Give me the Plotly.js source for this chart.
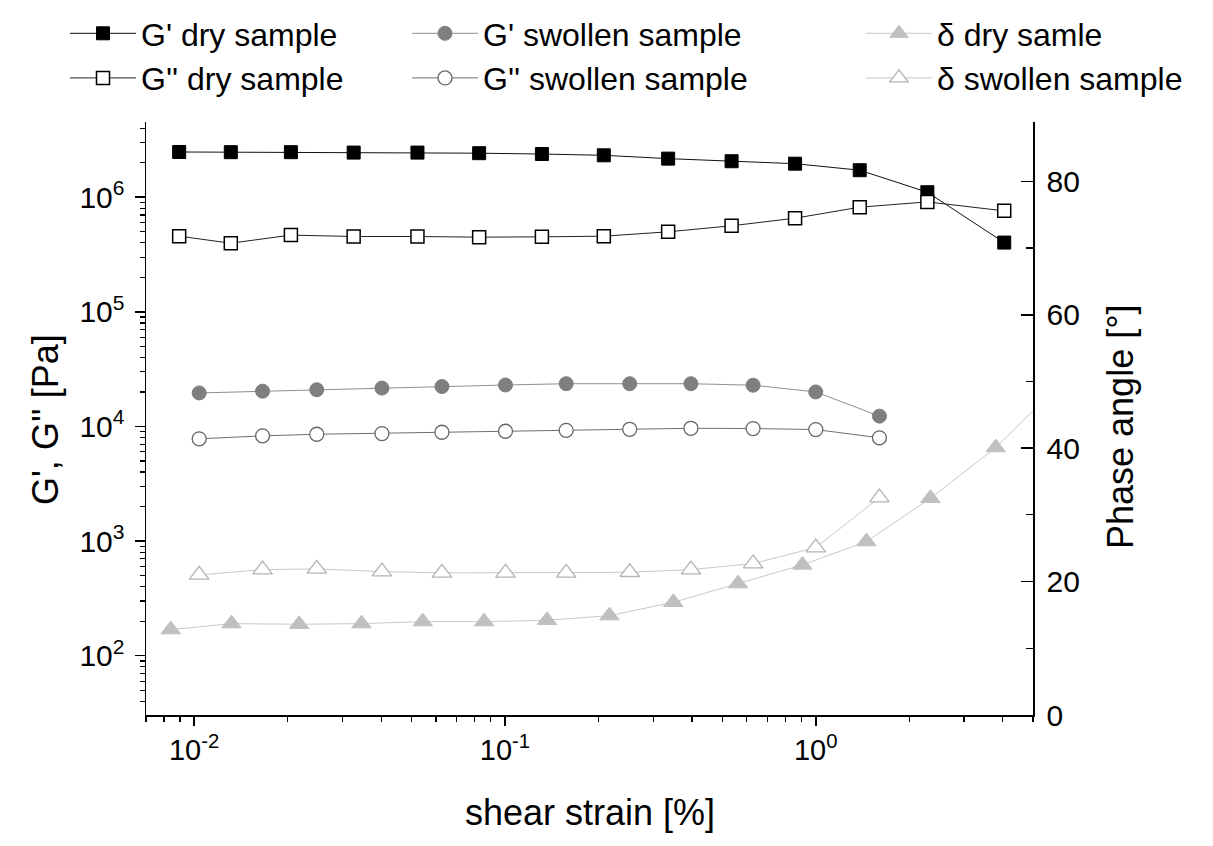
<!DOCTYPE html>
<html>
<head>
<meta charset="utf-8">
<script src="https://cdn.plot.ly/plotly-3.0.1.min.js"></script>
<style>html,body{margin:0;padding:0;background:#fff;}#chart{width:1213px;height:846px;}</style>
</head>
<body>
<div id="chart"></div>
<script>
// ---- data ----
const strainDry = [0.00895, 0.01312, 0.02048, 0.0326, 0.0523, 0.0826, 0.1315, 0.208, 0.335, 0.536, 0.858, 1.385, 2.286, 4.04];
const gPrimeDry = [2.48e6, 2.47e6, 2.47e6, 2.45e6, 2.45e6, 2.42e6, 2.38e6, 2.32e6, 2.17e6, 2.06e6, 1.96e6, 1.72e6, 1.105e6, 4.02e5];
const gDoublePrimeDry = [4.57e5, 3.97e5, 4.67e5, 4.54e5, 4.54e5, 4.48e5, 4.51e5, 4.57e5, 4.99e5, 5.63e5, 6.56e5, 8.18e5, 9.1e5, 7.6e5];

const strainSwollen = [0.01038, 0.0166, 0.0248, 0.0402, 0.0627, 0.1004, 0.1574, 0.252, 0.3966, 0.6286, 1.0, 1.603];
const gPrimeSwollen = [1.96e4, 2.03e4, 2.09e4, 2.16e4, 2.23e4, 2.30e4, 2.36e4, 2.36e4, 2.36e4, 2.29e4, 2.00e4, 1.23e4];
const gDoublePrimeSwollen = [7.80e3, 8.28e3, 8.55e3, 8.67e3, 8.90e3, 9.08e3, 9.26e3, 9.45e3, 9.64e3, 9.59e3, 9.40e3, 7.96e3];

const strainDeltaDry = [0.00841, 0.01319, 0.02177, 0.03455, 0.0544, 0.0857, 0.1366, 0.2170, 0.3484, 0.5623, 0.906, 1.456, 2.339, 3.794, 6.1];
const deltaDry = [12.8, 13.7, 13.6, 13.7, 14.0, 14.0, 14.2, 14.9, 16.9, 19.7, 22.5, 26.0, 32.5, 40.1, 49.6];
const deltaSwollen = [21.0, 21.8, 21.9, 21.5, 21.3, 21.3, 21.3, 21.4, 21.8, 22.7, 25.1, 32.6];

const xTickVals = [0.01, 0.1, 1];
const xTickText = ['10<sup>-2</sup>', '10<sup>-1</sup>', '10<sup>0</sup>'];
const yTickVals = [1e2, 1e3, 1e4, 1e5, 1e6];
const yTickText = ['10<sup>2</sup>', '10<sup>3</sup>', '10<sup>4</sup>', '10<sup>5</sup>', '10<sup>6</sup>'];
const y2TickVals = [0, 20, 40, 60, 80];
const y2MinorVals = [10, 30, 50, 70];

const names = ["G' dry sample", "G'' dry sample", "G' swollen sample", "G'' swollen sample", "δ dry samle", "δ swollen sample"];
const xTitle = 'shear strain [%]';
const yTitle = "G', G'' [Pa]";
const y2Title = 'Phase angle [°]';

// minor tick positions for log axes (2..9 in each decade)
function logMinors(fromExp, toExp) {
  const out = [];
  for (let e = fromExp; e <= toExp; e++) {
    for (let d = 2; d <= 9; d++) out.push(d * Math.pow(10, e));
  }
  return out;
}

const FONT = '"Liberation Sans", Arial, Helvetica, sans-serif';

const traces = [
  {x: strainDry, y: gPrimeDry, name: names[0], legend: 'legend', mode: 'lines+markers',
   line: {color: '#111', width: 1}, marker: {symbol: 'square', size: 13, color: '#000', line: {color: '#000', width: 1}}},
  {x: strainDry, y: gDoublePrimeDry, name: names[1], legend: 'legend', mode: 'lines+markers',
   line: {color: '#222', width: 1}, marker: {symbol: 'square', size: 13, color: '#fff', line: {color: '#000', width: 1.5}}},
  {x: strainSwollen, y: gPrimeSwollen, name: names[2], legend: 'legend2', mode: 'lines+markers',
   line: {color: '#8e8e8e', width: 1}, marker: {symbol: 'circle', size: 14, color: '#7f7f7f', line: {color: '#7f7f7f', width: 1}}},
  {x: strainSwollen, y: gDoublePrimeSwollen, name: names[3], legend: 'legend2', mode: 'lines+markers',
   line: {color: '#6e6e6e', width: 1}, marker: {symbol: 'circle', size: 14, color: '#fff', line: {color: '#666', width: 1.3}}},
  {x: strainDeltaDry, y: deltaDry, name: names[4], legend: 'legend3', yaxis: 'y2', mode: 'lines+markers',
   line: {color: '#c8c8c8', width: 1}, marker: {symbol: 'triangle-up', size: 17, color: '#c0c0c0', line: {color: '#c0c0c0', width: 1}}},
  {x: strainSwollen, y: deltaSwollen, name: names[5], legend: 'legend3', yaxis: 'y2', mode: 'lines+markers',
   line: {color: '#c8c8c8', width: 1}, marker: {symbol: 'triangle-up', size: 17, color: '#fff', line: {color: '#b4b4b4', width: 1.3}}}
];

const legendBase = {
  orientation: 'v', xref: 'container', yref: 'container', xanchor: 'left', yanchor: 'top',
  y: 1 - 6 / 846, bgcolor: 'rgba(0,0,0,0)', borderwidth: 0, itemwidth: 66,
  font: {family: FONT, size: 32, color: '#000'}, tracegroupgap: 0
};

const titleFont = {family: FONT, size: 36, color: '#000'};

const layout = {
  width: 1213, height: 846,
  paper_bgcolor: '#fff', plot_bgcolor: '#fff',
  margin: {l: 146, r: 180, t: 122, b: 131, pad: 0, autoexpand: false},
  font: {family: FONT, color: '#000'},
  showlegend: true,
  legend: Object.assign({}, legendBase, {x: 65 / 1213}),
  legend2: Object.assign({}, legendBase, {x: 407 / 1213}),
  legend3: Object.assign({}, legendBase, {x: 861 / 1213}),
  xaxis: {
    type: 'log', range: [Math.log10(0.007), Math.log10(5)],
    showline: true, linecolor: '#000', linewidth: 1.5, showgrid: false, zeroline: false, mirror: false,
    tickmode: 'array', tickvals: xTickVals, ticktext: xTickText, tickangle: 0,
    ticks: 'outside', ticklen: 9, tickwidth: 1.5, tickcolor: '#000',
    tickfont: {family: FONT, size: 29, color: '#000'},
    minor: {tickmode: 'array', tickvals: logMinors(-3, 0), ticks: 'outside', ticklen: 5, tickwidth: 1.2, tickcolor: '#000', showgrid: false}
  },
  yaxis: {
    type: 'log', range: [Math.log10(30.4), 6.656],
    showline: true, linecolor: '#000', linewidth: 1.5, showgrid: false, zeroline: false,
    tickmode: 'array', tickvals: yTickVals, ticktext: yTickText,
    ticks: 'outside', ticklen: 10, tickwidth: 1.5, tickcolor: '#000', ticklabelstandoff: 4,
    tickfont: {family: FONT, size: 30, color: '#000'},
    minor: {tickmode: 'array', tickvals: logMinors(1, 6), ticks: 'outside', ticklen: 5, tickwidth: 1.2, tickcolor: '#000', showgrid: false}
  },
  yaxis2: {
    overlaying: 'y', side: 'right', range: [0, 88.9],
    showline: true, linecolor: '#000', linewidth: 1.5, showgrid: false, zeroline: false,
    tickmode: 'array', tickvals: y2TickVals,
    ticks: 'inside', ticklen: 12, tickwidth: 1.5, tickcolor: '#000', ticklabelstandoff: 6,
    tickfont: {family: FONT, size: 30, color: '#000'},
    minor: {tickmode: 'array', tickvals: y2MinorVals, ticks: 'inside', ticklen: 7, tickwidth: 1.2, tickcolor: '#000', showgrid: false}
  },
  annotations: [
    {text: xTitle, xref: 'paper', yref: 'paper', x: 0.5, y: -(812 - 715) / 593, xanchor: 'center', yanchor: 'middle',
     showarrow: false, font: titleFont},
    {text: yTitle, xref: 'paper', yref: 'paper', x: (45 - 146) / 887, y: (715 - 420) / 593, xanchor: 'center', yanchor: 'middle',
     textangle: -90, showarrow: false, font: titleFont},
    {text: y2Title, xref: 'paper', yref: 'paper', x: (1120 - 146) / 887, y: (715 - 427) / 593, xanchor: 'center', yanchor: 'middle',
     textangle: -90, showarrow: false, font: titleFont}
  ]
};

Plotly.newPlot('chart', traces, layout, {staticPlot: true, displayModeBar: false});
</script>
</body>
</html>
